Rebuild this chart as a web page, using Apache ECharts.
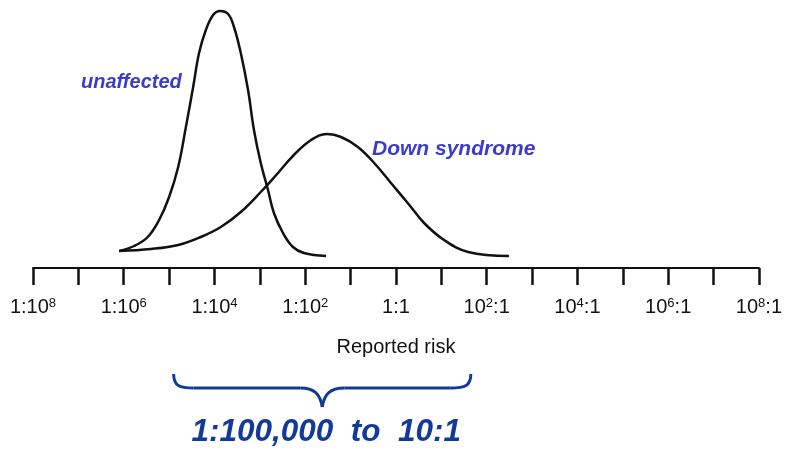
<!DOCTYPE html>
<html>
<head>
<meta charset="utf-8">
<script src="https://cdn.jsdelivr.net/npm/echarts@6/dist/echarts.min.js"></script>
<style>
html,body{margin:0;padding:0;background:#fff;}
#chart{width:785px;height:452px;}
</style>
</head>
<body>
<div id="chart"></div>
<script>
// log10 of reported risk (odds) and relative frequency (arbitrary units)
const unaffectedX = [-6.10, -5.77, -5.47, -5.22, -5.00, -4.80, -4.63, -4.47, -4.34, -4.19, -4.03, -3.88, -3.70, -3.57, -3.42, -3.26, -3.13, -2.98, -2.82, -2.69, -2.49, -2.27, -2.03, -1.54];
const unaffectedY = [5, 10, 19, 36, 59, 89, 129, 169, 203, 226, 241, 245, 242, 229, 203, 166, 126, 93, 66, 43, 23, 9, 3, 0];
const downX = [-6.10, -5.40, -4.80, -4.30, -3.86, -3.42, -2.98, -2.60, -2.25, -1.87, -1.52, -1.21, -0.84, -0.48, -0.11, 0.26, 0.62, 1.06, 1.59, 2.49];
const downY = [5, 7, 11, 19, 29, 44, 64, 83, 101, 116, 122, 119, 109, 93, 73, 53, 33, 16, 4, 0];
const tickLabels = {
  '-8': '1:10{s|8}', '-6': '1:10{s|6}', '-4': '1:10{s|4}', '-2': '1:10{s|2}',
  '0': '1:1', '2': '10{s|2}:1', '4': '10{s|4}:1', '6': '10{s|6}:1', '8': '10{s|8}:1'
};
const braceRange = [-4.9, 1.65];
const braceText = '1:100,000  to  10:1';

function pairs(xs, ys) { return xs.map((x, i) => [x, ys[i]]); }

const chart = echarts.init(document.getElementById('chart'));
chart.setOption({
  animation: false,
  backgroundColor: '#ffffff',
  grid: { left: 33, right: 25, top: 8, bottom: 184 },
  xAxis: {
    type: 'value', min: -8, max: 8, interval: 1,
    axisLine: { show: true, onZero: false, lineStyle: { color: '#111', width: 2 } },
    axisTick: { show: true, length: 17, lineStyle: { color: '#111', width: 2.5 } },
    splitLine: { show: false },
    axisLabel: {
      margin: 29,
      formatter: v => tickLabels[String(v)] || '',
      color: '#111', fontFamily: 'Liberation Sans', fontSize: 20,
      rich: {
        s: { fontSize: 13, lineHeight: 13, verticalAlign: 'top', color: '#111', fontFamily: 'Liberation Sans', padding: [0, 0, 8, 0] }
      }
    },
    name: 'Reported risk', nameLocation: 'middle', nameGap: 69,
    nameTextStyle: { color: '#111', fontFamily: 'Liberation Sans', fontSize: 20 }
  },
  yAxis: {
    type: 'value', min: -12, max: 248, show: false, splitLine: { show: false }
  },
  series: [
    { name: 'unaffected', type: 'line', smooth: 0.4, symbol: 'none',
      lineStyle: { color: '#111', width: 2.5 }, data: pairs(unaffectedX, unaffectedY) },
    { name: 'Down syndrome', type: 'line', smooth: 0.4, symbol: 'none',
      lineStyle: { color: '#111', width: 2.5 }, data: pairs(downX, downY) }
  ]
});

const L = chart.convertToPixel({ gridIndex: 0 }, [braceRange[0], 0])[0];
const R = chart.convertToPixel({ gridIndex: 0 }, [braceRange[1], 0])[0];
const M = (L + R) / 2;
const y0 = 374, y1 = 388, y2 = 407;
const bs = { fill: null, stroke: '#123a9a', lineWidth: 3 };

chart.setOption({
  graphic: [
    { type: 'text', x: 81, y: 82, style: { text: 'unaffected', fill: '#3c3cc8', font: 'italic bold 20px "Liberation Sans"', textAlign: 'left', textVerticalAlign: 'middle' } },
    { type: 'text', x: 372, y: 149, style: { text: 'Down syndrome', fill: '#3c3cc8', font: 'italic bold 21px "Liberation Sans"', textAlign: 'left', textVerticalAlign: 'middle' } },
    { type: 'bezierCurve', shape: { x1: L, y1: y0, cpx1: L, cpy1: y1 - 2, cpx2: L + 6, cpy2: y1, x2: L + 20, y2: y1 }, style: bs },
    { type: 'line', shape: { x1: L + 20, y1: y1, x2: M - 22, y2: y1 }, style: bs },
    { type: 'bezierCurve', shape: { x1: M - 22, y1: y1, cpx1: M - 8, cpy1: y1, cpx2: M - 2, cpy2: y1 + 6, x2: M, y2: y2 }, style: bs },
    { type: 'bezierCurve', shape: { x1: M, y1: y2, cpx1: M + 2, cpy1: y1 + 6, cpx2: M + 8, cpy2: y1, x2: M + 22, y2: y1 }, style: bs },
    { type: 'line', shape: { x1: M + 22, y1: y1, x2: R - 20, y2: y1 }, style: bs },
    { type: 'bezierCurve', shape: { x1: R - 20, y1: y1, cpx1: R - 6, cpy1: y1, cpx2: R, cpy2: y1 - 2, x2: R, y2: y0 }, style: bs },
    { type: 'text', x: M + 4, y: 432, style: { text: braceText, fill: '#123a9a', font: 'italic bold 31.5px "Liberation Sans"', textAlign: 'center', textVerticalAlign: 'middle' } }
  ]
});
</script>
</body>
</html>
